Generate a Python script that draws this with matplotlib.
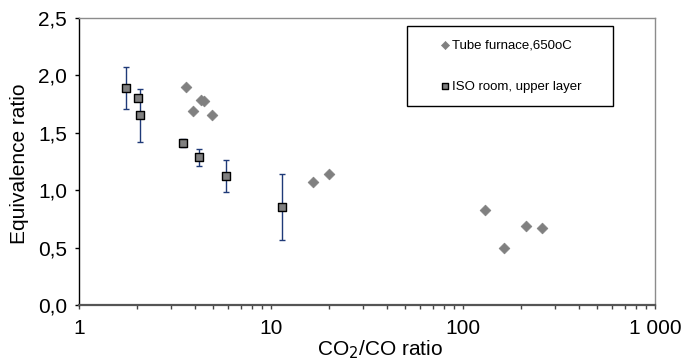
import matplotlib
matplotlib.use("Agg")
import matplotlib.pyplot as plt
from matplotlib.patches import Rectangle
from matplotlib.ticker import FixedLocator, LogLocator, NullFormatter, FixedFormatter

plt.rcParams['font.family'] = ['Liberation Sans', 'DejaVu Sans']

# Tube furnace experiments, 650 °C
tube_co2_co = [3.61, 3.92, 4.30, 4.50, 4.93, 16.5, 20.0, 130, 163, 214, 259]
tube_phi = [1.90, 1.69, 1.79, 1.775, 1.655, 1.07, 1.145, 0.83, 0.495, 0.69, 0.67]

# ISO room, upper layer (mean with min/max bars)
iso_co2_co = [1.76, 2.04, 2.09, 3.47, 4.22, 5.85, 11.4]
iso_phi = [1.89, 1.80, 1.655, 1.41, 1.29, 1.12, 0.855]
iso_hi = [2.07, 1.82, 1.885, 1.445, 1.36, 1.265, 1.14]
iso_lo = [1.71, 1.78, 1.42, 1.375, 1.215, 0.98, 0.565]

x_ticks = [1, 10, 100, 1000]
x_tick_labels = ["1", "10", "100", "1 000"]
y_ticks = [0.0, 0.5, 1.0, 1.5, 2.0, 2.5]

W, H = 683, 360
L, R, T, B = 79, 655, 18, 305

fig = plt.figure(figsize=(W / 100, H / 100), dpi=100)
ax = fig.add_axes([L / W, 1 - B / H, (R - L) / W, (B - T) / H])


def ax_x(px):
    return (px - L) / (R - L)


def ax_y(py):
    return (B - py) / (B - T)


ax.set_xscale('log')
ax.set_xlim(1, 1000)
ax.set_ylim(0, 2.5)

err_lo = [p - l for p, l in zip(iso_phi, iso_lo)]
err_hi = [h - p for p, h in zip(iso_phi, iso_hi)]
ax.errorbar(iso_co2_co, iso_phi, yerr=[err_lo, err_hi], fmt='none',
            ecolor='#1f3a78', elinewidth=1.0, capsize=2.0, capthick=1.0, zorder=2)
ax.scatter(tube_co2_co, tube_phi, marker='D', s=30, color='#808080',
           edgecolors='#808080', linewidths=0.5, zorder=3,
           label='Tube furnace,650oC')
ax.scatter(iso_co2_co, iso_phi, marker='s', s=26, color='#808080',
           edgecolors='black', linewidths=1.0, zorder=4,
           label='ISO room, upper layer')

ax.xaxis.set_major_locator(FixedLocator(x_ticks))
ax.xaxis.set_major_formatter(FixedFormatter(x_tick_labels))
ax.xaxis.set_minor_locator(LogLocator(base=10, subs=range(2, 10)))
ax.xaxis.set_minor_formatter(NullFormatter())
ax.set_yticks(y_ticks)
ax.set_yticklabels([f"{v:.1f}".replace('.', ',') for v in y_ticks])

ax.tick_params(axis='x', which='major', length=3, width=1, color='#444444',
               labelsize=15, pad=7, direction='out')
ax.tick_params(axis='x', which='minor', length=3, width=1, color='#444444',
               direction='out')
ax.tick_params(axis='y', which='major', length=3, width=1, color='black',
               labelsize=15, pad=5.5, direction='out')

for side in ('top', 'right'):
    ax.spines[side].set_color('#8c8c8c')
    ax.spines[side].set_linewidth(1.0)
ax.spines['left'].set_color('black')
ax.spines['left'].set_linewidth(1.0)
ax.spines['bottom'].set_color('#555555')
ax.spines['bottom'].set_linewidth(1.6)

ax.set_xlabel('CO$_2$/CO ratio', fontsize=15)
ax.xaxis.set_label_coords(ax_x(380), ax_y(338))
ax.set_ylabel('Equivalence ratio', fontsize=15)
ax.yaxis.set_label_coords(ax_x(29), ax_y(164))

# Legend box with the entries centred inside it
ax.add_patch(Rectangle((ax_x(407), ax_y(106)), ax_x(613) - ax_x(407),
                       ax_y(26) - ax_y(106), transform=ax.transAxes,
                       facecolor='white', edgecolor='black', linewidth=1.0,
                       zorder=5))
leg = ax.legend(loc='center', bbox_to_anchor=(ax_x(511), ax_y(66)),
                fontsize=9.5, frameon=False, handlelength=0.6,
                handletextpad=0.25, markerscale=0.75, labelspacing=2.2,
                borderpad=0, borderaxespad=0)
leg.set_zorder(6)

fig.savefig('out.png', dpi=100)
